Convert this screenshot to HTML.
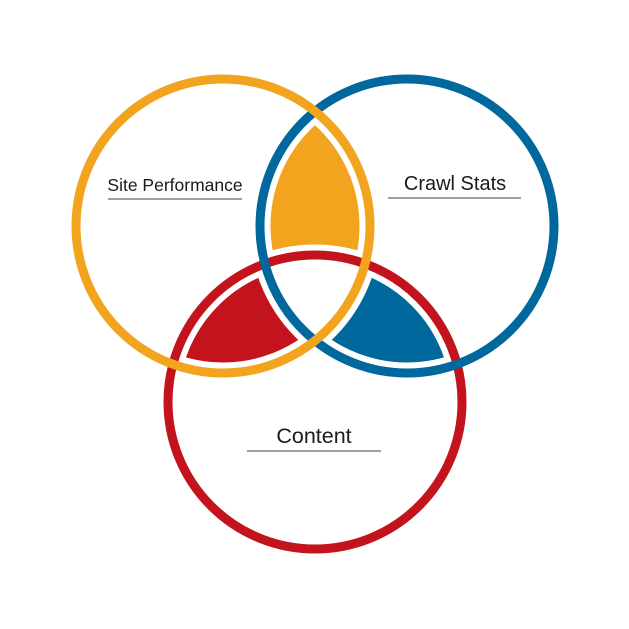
<!DOCTYPE html>
<html><head><style>body{margin:0;background:#fff}svg{display:block}</style></head><body>
<svg width="629" height="629" viewBox="0 0 629 629" xmlns="http://www.w3.org/2000/svg">
<defs>
<clipPath id="o"><circle cx="223" cy="226" r="147"/></clipPath>
<clipPath id="b"><circle cx="407" cy="226" r="147"/></clipPath>
<clipPath id="r"><circle cx="315" cy="402" r="147"/></clipPath>
</defs>
<rect width="629" height="629" fill="#fff"/>
<g clip-path="url(#o)"><circle cx="407" cy="226" r="147" fill="#F3A41F"/></g>
<g clip-path="url(#b)"><circle cx="315" cy="402" r="147" fill="#00689D"/></g>
<g clip-path="url(#r)"><circle cx="223" cy="226" r="147" fill="#C3131C"/></g>
<g clip-path="url(#o)"><g clip-path="url(#b)"><circle cx="315" cy="402" r="147" fill="#fff"/></g></g>
<g fill="none" stroke="#fff" stroke-width="21">
<circle cx="223" cy="226" r="147"/><circle cx="407" cy="226" r="147"/><circle cx="315" cy="402" r="147"/>
</g>
<g fill="none" stroke-width="9">
<circle cx="315" cy="402" r="147" stroke="#C3131C"/>
<circle cx="407" cy="226" r="147" stroke="#00689D"/>
<circle cx="223" cy="226" r="147" stroke="#F3A41F"/>
</g>
<g font-family="Liberation Sans, sans-serif" fill="#1a1a1a" text-anchor="middle">
<text x="175" y="191" font-size="17.5">Site Performance</text>
<text x="455" y="190" font-size="20">Crawl Stats</text>
<text x="314" y="443" font-size="21.5">Content</text>
</g>
<g stroke="#666" stroke-width="1.2">
<line x1="108" y1="199" x2="242" y2="199"/>
<line x1="388" y1="198" x2="521" y2="198"/>
<line x1="247" y1="451" x2="381" y2="451"/>
</g>
</svg>
</body></html>
